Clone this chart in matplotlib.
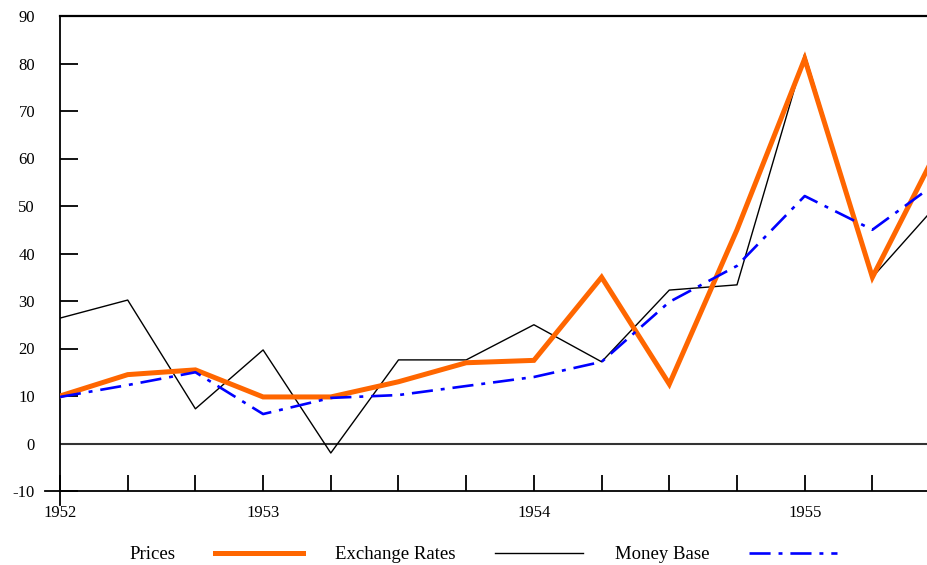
import numpy as np
import matplotlib.pyplot as plt

# quarterly observations, index 0 = first quarter shown
quarters = np.arange(14)
prices = [10, 14.5, 15.5, 9.8, 9.8, 13, 17, 17.5, 35, 12.5, 45, 81, 35, 63]
exchange_rates = [26.4, 30.2, 7.3, 19.7, -2, 17.6, 17.6, 25, 17.2, 32.3, 33.4, 82, 35, 51]
money_base = [9.8, 12.3, 15, 6.2, 9.6, 10.2, 12.1, 14, 17.2, 29.8, 37.4, 52.1, 45, 55.4]

year_pos = [0, 3, 7, 11]
year_labels = ['1952', '1953', '1954', '1955']

plt.rcParams['font.family'] = ['Liberation Serif', 'DejaVu Serif']
plt.rcParams['axes.unicode_minus'] = False

fig = plt.figure(figsize=(9.28, 5.65), dpi=100)
ax = fig.add_axes([60/928, 1 - 491/565, 1 - 60/928, (491 - 16)/565])

ax.plot(quarters, exchange_rates, color='black', lw=1.0, zorder=3, label='Exchange Rates')
ax.plot(quarters, prices, color='#FF6600', lw=3.6, zorder=4, label='Prices',
        solid_joinstyle='miter')
ax.plot(quarters, money_base, color='#0000FF', lw=1.9, zorder=5, label='Money Base',
        dashes=(8, 3, 1.5, 3))

ax.axhline(0, color='#333333', lw=1.5, zorder=2)

ax.set_xlim(0, (928 - 60) / 67.7)
ax.set_ylim(-10, 90)

ax.spines['right'].set_visible(False)
ax.spines['top'].set_linewidth(1.6)
ax.spines['left'].set_linewidth(1.3)
ax.spines['bottom'].set_linewidth(1.3)

# axis lines run a little past the corner, like the original
ax.plot([0, 0], [-10, -13], color='black', lw=1.3, clip_on=False)
ax.plot([-0.22, 0], [-10, -10], color='black', lw=1.3, clip_on=False)

ax.set_yticks(np.arange(-10, 91, 10))
ax.tick_params(axis='y', direction='in', length=13, width=1.3, pad=18, labelsize=12)

# a tick at every quarter, year labels on a few of them
ax.set_xticks(quarters[:13])
ax.set_xticklabels([year_labels[year_pos.index(q)] if q in year_pos else '' for q in quarters[:13]])
ax.tick_params(axis='x', direction='in', length=11.5, width=1.3, pad=10, labelsize=12)

handles, labels = ax.get_legend_handles_labels()
order = [1, 0, 2]
fig.legend([handles[i] for i in order], [labels[i] for i in order],
           loc='center', bbox_to_anchor=(0.521, 0.018), ncol=3, frameon=False,
           markerfirst=False, handlelength=4.7, handletextpad=2.1,
           columnspacing=1.7, fontsize=13.5)

fig.savefig('out.png', dpi=100)
